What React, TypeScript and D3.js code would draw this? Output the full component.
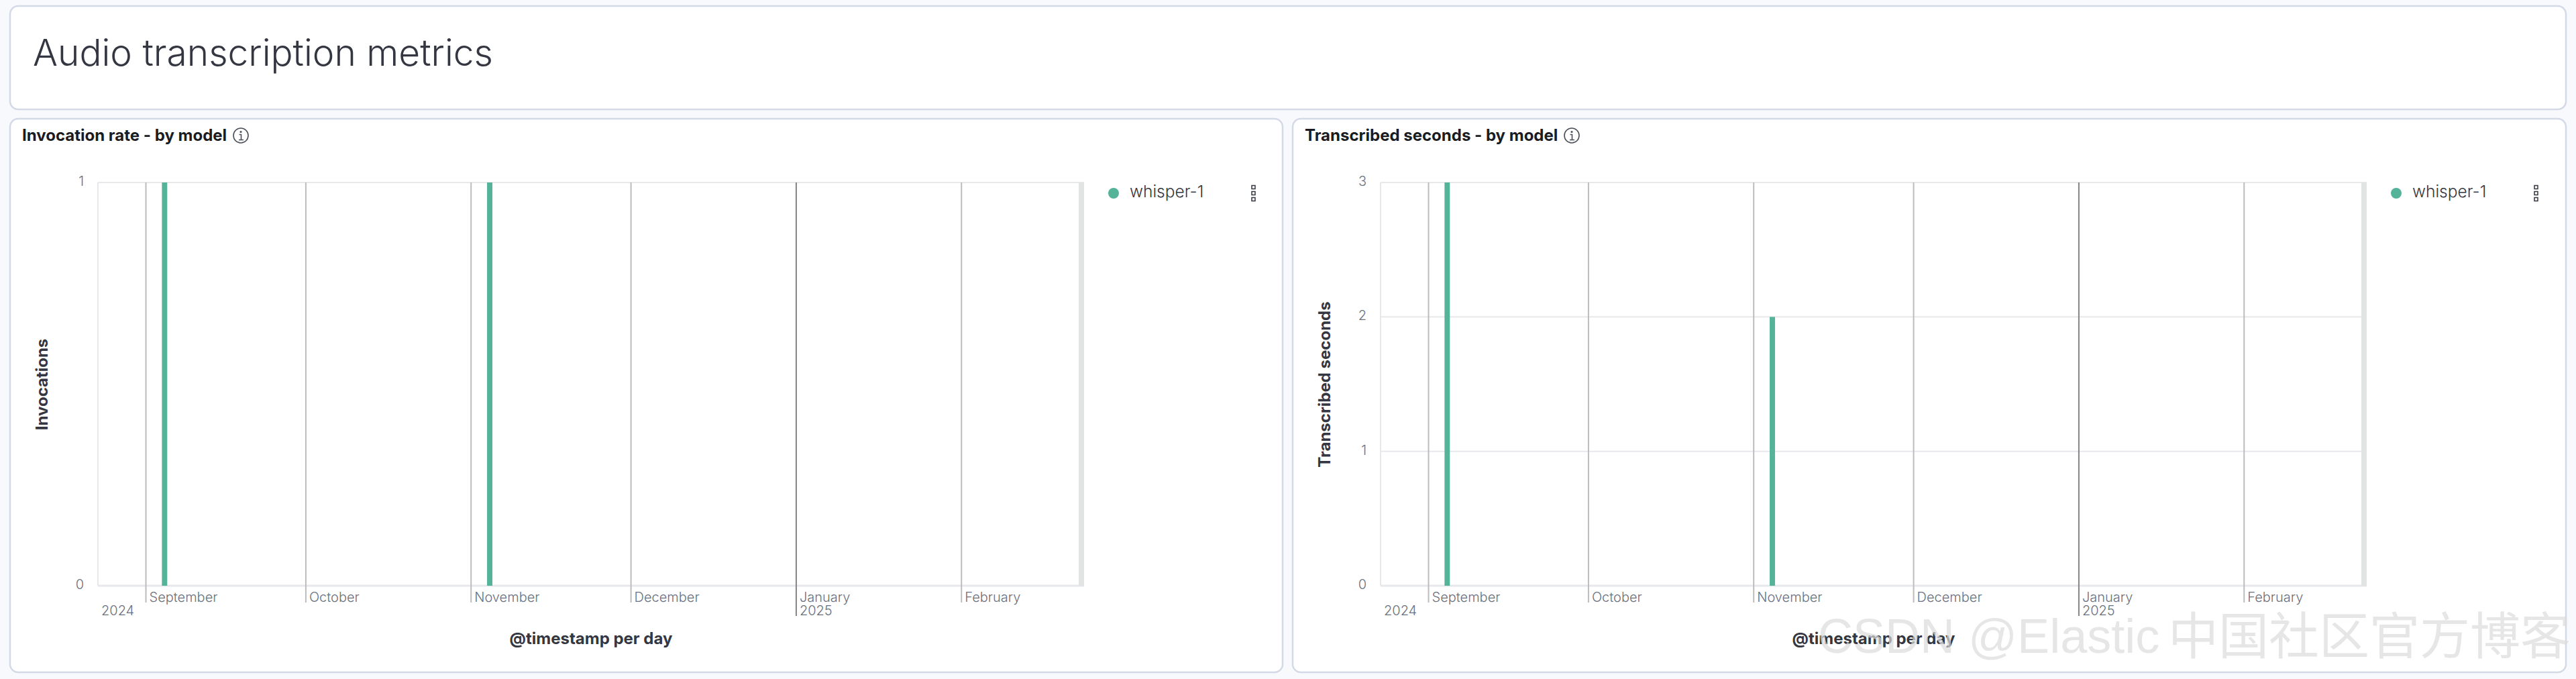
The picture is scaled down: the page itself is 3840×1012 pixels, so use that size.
import React from "react";
import * as d3 from "d3";

const pageTitle = "Audio transcription metrics";
const seriesName = "whisper-1";
const barDates = ["2024-09-04", "2024-11-04"];
const invocationValues = [1, 1];
const secondsValues = [3, 2];
const invocationTicks = [0, 1];
const secondsTicks = [0, 1, 2, 3];
const monthTicks = ["2024-09-01", "2024-10-01", "2024-11-01", "2024-12-01", "2025-01-01", "2025-02-01"];
const monthLabels = ["September", "October", "November", "December", "January", "February"];
const domainDates = ["2024-08-23", "2025-02-24"];

const UI = "Inter, 'Noto Sans', sans-serif";
const GREEN = "#54b399";
const TICK = "#69707d";
const AXIS = "#e6e8ec";

const dt = (s: string) => new Date(s + "T00:00:00Z");

function Panel({ x, y, w, h }: { x: number; y: number; w: number; h: number }) {
  return <rect x={x} y={y} width={w} height={h} rx={12} fill="#fff" stroke="#d3dae6" strokeWidth={2.5} />;
}

function Chart({ left, right, panelX, panelW, title, iconX, yTitle, yTitleX, values, ticks, yMax, xTitleX }: any) {
  const top = 272, bottom = 873;
  const x = d3.scaleUtc().domain(domainDates.map(dt)).range([left, right]);
  const y = d3.scaleLinear().domain([0, yMax]).range([bottom, top]);
  const legendX = right + 44;
  return (
    <g>
      <Panel x={panelX} y={177} w={panelW} h={825} />
      <text x={panelX + 18} y={210} fontFamily={UI} fontSize={24} fontWeight={700} fill="#1a1c21">{title}</text>
      <g transform={`translate(${iconX},202)`} fill="none" stroke="#4b4f57" strokeWidth={1.6}>
        <circle r={11} />
        <path d="M-2.5,-1.5H0.5V6M-3,6.5H4" />
        <circle cx={0} cy={-5.5} r={0.8} fill="#4b4f57" />
      </g>
      {ticks.map((t: number) => (
        <g key={t}>
          <line x1={left} x2={right} y1={y(t)} y2={y(t)} stroke={AXIS} strokeWidth={t === 0 ? 3 : 2} />
          <text x={left - 21} y={y(t) + 5} textAnchor="end" fontFamily={UI} fontSize={20} fontWeight={300} fill={TICK}>{t}</text>
        </g>
      ))}
      <line x1={left} x2={left} y1={top} y2={bottom} stroke={AXIS} strokeWidth={2} />
      <rect x={x(dt("2025-02-23"))} y={top} width={x(dt("2025-02-24")) - x(dt("2025-02-23"))} height={bottom - top} fill="#e2e4e4" />
      {monthTicks.map((m, i) => {
        const px = x(dt(m));
        const isYear = monthLabels[i] === "January";
        return (
          <g key={m}>
            <line x1={px} x2={px} y1={top} y2={isYear ? 918 : 898} stroke={isYear ? "#848484" : "#bcbcbc"} strokeWidth={2} />
            <text x={px + 5} y={897} fontFamily={UI} fontSize={20} fontWeight={300} fill={TICK}>{monthLabels[i]}</text>
          </g>
        );
      })}
      <text x={left + 5} y={917} fontFamily={UI} fontSize={20} fontWeight={300} fill={TICK}>2024</text>
      <text x={x(dt("2025-01-01")) + 5} y={917} fontFamily={UI} fontSize={20} fontWeight={300} fill={TICK}>2025</text>
      {barDates.map((b, i) => {
        const x0 = x(dt(b));
        const x1 = x(d3.utcDay.offset(dt(b), 1));
        return <rect key={b} x={x0} y={y(values[i])} width={x1 - x0} height={bottom - y(values[i])} fill={GREEN} />;
      })}
      <text transform={`translate(${yTitleX},573) rotate(-90)`} textAnchor="middle" fontFamily={UI} fontSize={24} fontWeight={700} fill="#343741">{yTitle}</text>
      <text x={xTitleX} y={960} textAnchor="middle" fontFamily={UI} fontSize={24} fontWeight={700} fill="#343741">@timestamp per day</text>
      <circle cx={legendX} cy={288} r={8} fill={GREEN} />
      <text x={legendX + 24} y={294} fontFamily={UI} fontSize={24.5} fontWeight={300} fill="#343741">{seriesName}</text>
      {[279, 288, 297].map((cy) => (
        <rect key={cy} x={legendX + 206} y={cy - 2.5} width={5} height={5} fill="none" stroke="#343741" strokeWidth={1.5} />
      ))}
    </g>
  );
}

export default function App() {
  return (
    <svg width={3840} height={1012} style={{ position: "absolute", left: 0, top: 0, display: "block" }}>
      <rect width={3840} height={1012} fill="#f7f9fd" />
      <Panel x={15} y={9} w={3810} h={154} />
      <text x={49} y={98} fontFamily={UI} fontSize={55} fontWeight={300} fill="#343741">{pageTitle}</text>
      <Chart left={146} right={1616} panelX={15} panelW={1897} title="Invocation rate - by model" iconX={359}
        yTitle="Invocations" yTitleX={71} values={invocationValues} ticks={invocationTicks} yMax={1} xTitleX={881} />
      <Chart left={2058} right={3528} panelX={1927} panelW={1898} title="Transcribed seconds - by model" iconX={2343}
        yTitle="Transcribed seconds" yTitleX={1983} values={secondsValues} ticks={secondsTicks} yMax={3} xTitleX={2793} />
      <text x={2710} y={973} fontFamily="'Liberation Sans', sans-serif" fontSize={72} fontWeight={400} fill="#dcdcdc" fillOpacity={0.7}>CSDN @Elastic</text>
      <text x={3232} y={975} fontFamily="'Noto Sans CJK SC', sans-serif" fontSize={75} fontWeight={400} fill="#dcdcdc" fillOpacity={0.7}>中国社区官方博客</text>
    </svg>
  );
}
